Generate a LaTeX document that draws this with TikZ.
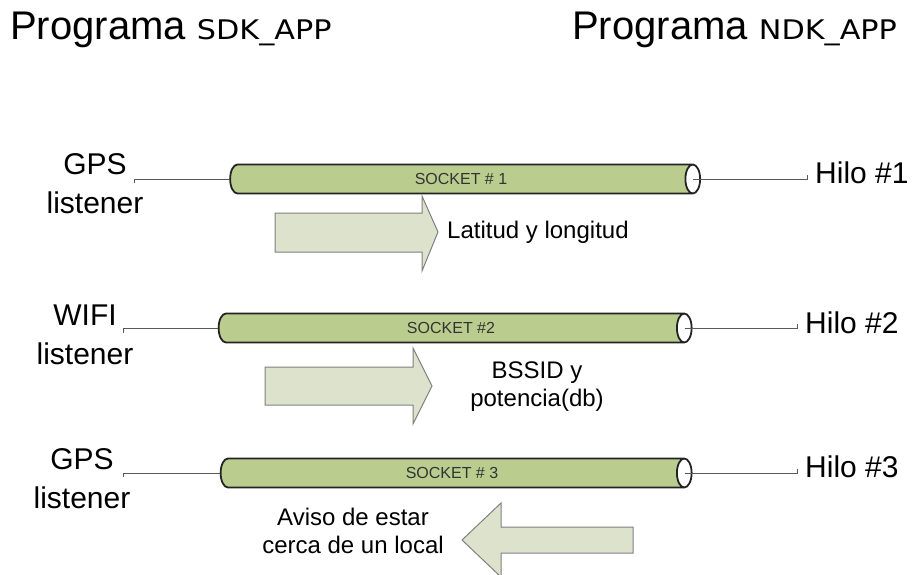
\documentclass[tikz,border=0pt]{standalone}
\usepackage{fontspec}
\setmainfont{Liberation Sans}
\newfontfamily\appfont[FakeStretch=1.12]{DejaVu Sans}
\usetikzlibrary{shapes.geometric}

\definecolor{socketgreen}{RGB}{186,205,142}
\definecolor{socketline}{RGB}{35,35,35}
\definecolor{arrowfill}{RGB}{221,226,204}
\definecolor{arrowline}{RGB}{128,128,128}
\definecolor{wiregray}{RGB}{90,90,90}

\tikzset{
  title/.style={anchor=base west, inner sep=0pt, font=\fontsize{40}{42}\selectfont},
  socket/.style={cylinder, draw=socketline, line width=1.8pt,
    cylinder uses custom fill, cylinder body fill=socketgreen,
    cylinder end fill=white, aspect=1.3,
    minimum width=29pt, minimum height=470pt, inner sep=0pt,
    font=\fontsize{16}{18}\selectfont, text=black!80},
  side/.style={anchor=north, align=center, inner sep=0pt,
    font=\fontsize{30}{39}\selectfont},
  hilo/.style={anchor=base west, inner sep=0pt, font=\fontsize{30}{36}\selectfont},
  wire/.style={draw=wiregray, line width=0.8pt},
  blockarrow/.style={fill=arrowfill, draw=arrowline, line width=1pt},
  note/.style={anchor=north, align=center, inner sep=0pt,
    font=\fontsize{24}{27.5}\selectfont}
}

\begin{document}
\begin{tikzpicture}[x=1pt,y=-1pt]
  \useasboundingbox (0,0) rectangle (912,574);

  % titles
  \node[title] (sdk) at (10,39) {Programa {\appfont\fontsize{27}{28}\selectfont SDK\_APP}};
  \node[title] (ndk) at (572,39) {Programa {\appfont\fontsize{27}{28}\selectfont NDK\_APP}};

  % sockets
  \node[socket] (sock1) at (461,179) {SOCKET \# 1};
  \node[socket, minimum height=473pt] (sock2) at (451,328) {SOCKET \#2};
  \node[socket, minimum height=471pt] (sock3) at (452,473) {SOCKET \# 3};

  % listeners (sdk side)
  \node[side] (lis1) at (95,153) {GPS\\listener};
  \node[side] (lis2) at (85,305) {WIFI\\listener};
  \node[side] (lis3) at (82,448) {GPS\\listener};

  % threads (ndk side)
  \node[hilo] (hilo1) at (815,183) {Hilo \#1};
  \node[hilo] (hilo2) at (805,333) {Hilo \#2};
  \node[hilo] (hilo3) at (805,477) {Hilo \#3};

  % wire ends
  \coordinate (t1) at (134,183);
  \coordinate (t2) at (123,333);
  \coordinate (t3) at (123,477);
  \coordinate (e1) at (807,175);
  \coordinate (e2) at (797,324);
  \coordinate (e3) at (797,469);

  \foreach \i in {1,2,3} {
    \draw[wire] (t\i) |- (sock\i.west);
    \draw[wire] ([xshift=-8pt]sock\i.east) -| (e\i);
  }

  % data arrows
  \draw[blockarrow] (275,213) -- (422,213) -- (422,196) -- (438,232)
    -- (422,271) -- (422,252) -- (275,252) -- cycle;
  \draw[blockarrow] (265,367) -- (413,367) -- (413,348) -- (432,386)
    -- (413,424) -- (413,405) -- (265,405) -- cycle;
  \draw[blockarrow] (633,527) -- (501,527) -- (501,503) -- (462,540)
    -- (501,577) -- (501,553) -- (633,553) -- cycle;

  \node[note, anchor=west] (lat) at (447,232) {Latitud y longitud};
  \node[note] (bssid) at (537,362) {BSSID y\\potencia(db)};
  \node[note] (aviso) at (353,508) {Aviso de estar\\cerca de un local};
\end{tikzpicture}
\end{document}
